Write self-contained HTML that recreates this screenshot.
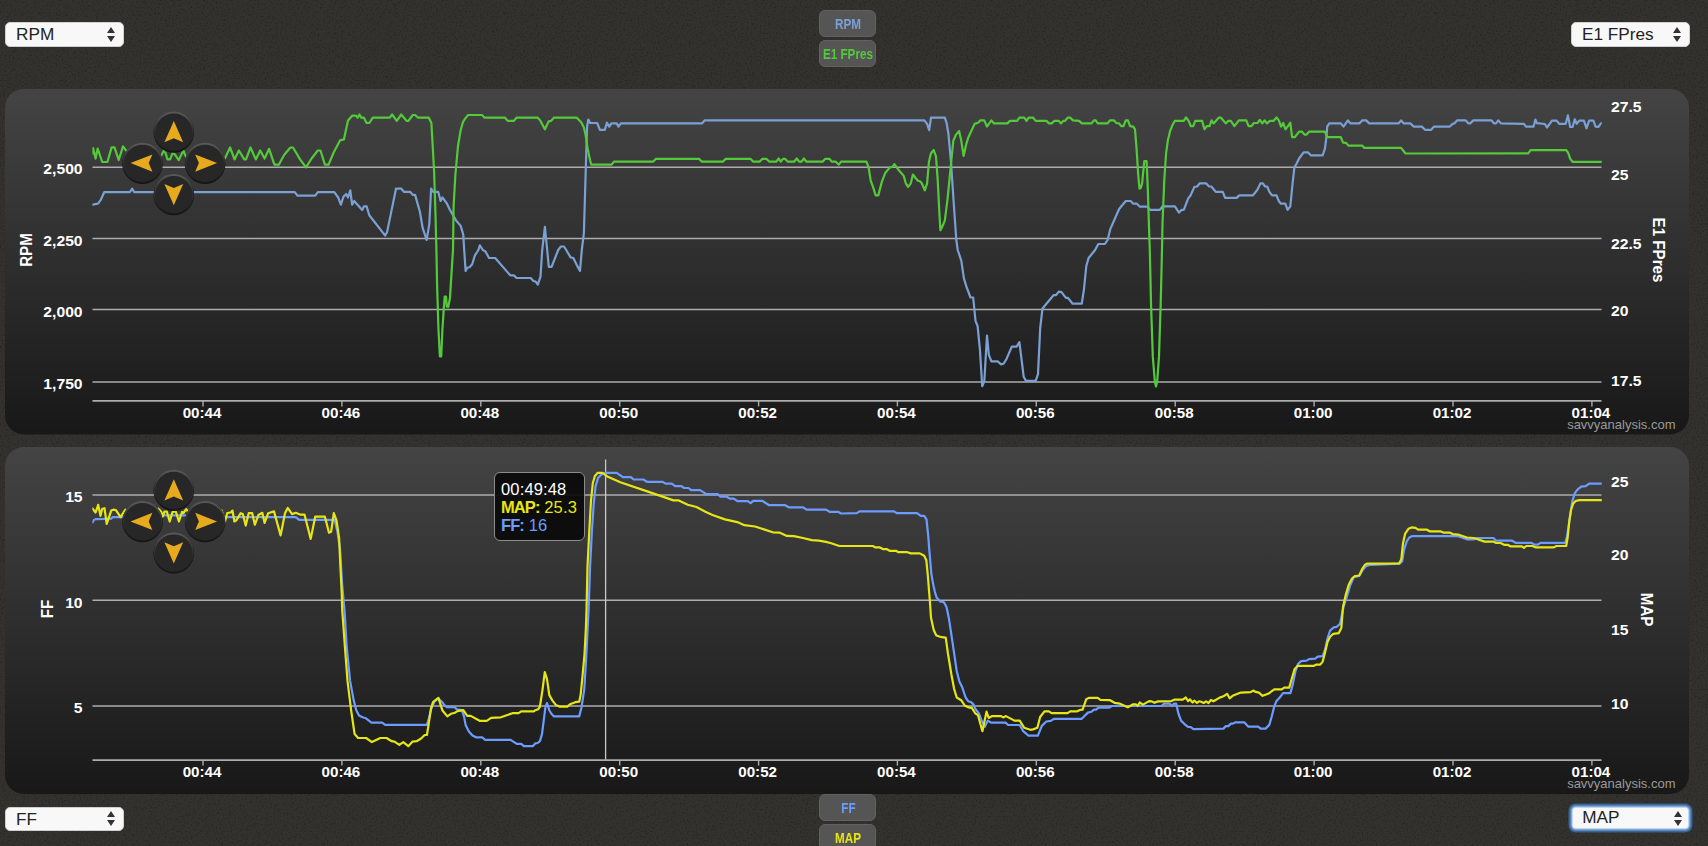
<!DOCTYPE html>
<html><head><meta charset="utf-8"><title>chart</title>
<style>
html,body{margin:0;padding:0;}
body{width:1708px;height:846px;overflow:hidden;background:#33322e;position:relative;font-family:"Liberation Sans",sans-serif;}
.tl{font:bold 15.4px "Liberation Sans",sans-serif;fill:#fff;}
.at{font:bold 15.8px "Liberation Sans",sans-serif;fill:#fff;}
.cr{font:13px "Liberation Sans",sans-serif;fill:#9a9a9a;}
.s{fill:none;stroke-width:2.2;stroke-linejoin:round;stroke-linecap:round;}
.sel{position:absolute;box-sizing:border-box;height:24.6px;width:118.5px;background:#f8f8f8;border-radius:5px;border:1px solid #d0d0d0;
  font:17.2px "Liberation Sans",sans-serif;color:#222;line-height:22.5px;padding-left:10px;}
.sel i{position:absolute;right:7.8px;width:0;height:0;border-left:4px solid transparent;border-right:4px solid transparent;}
.sel i.u{top:3.6px;border-bottom:6px solid #333;}
.sel i.d{top:12.9px;border-top:6px solid #333;}
.sel.foc{width:114.4px;height:20.4px;border:none;border-radius:3px;line-height:19.5px;padding-left:8.8px;
  box-shadow:0 0 0 0.8px #cfdff3,0 0 0 1.8px #93b4de,0 0 0 3px #5784b8,0 0 0 4.3px #3d6894,0 0 1px 4.8px rgba(45,80,120,0.5);}
.sel.foc i{right:6px}
.sel.foc i.u{top:2.6px}
.sel.foc i.d{top:12px}
.lg{position:absolute;left:819px;width:57px;height:27px;box-sizing:border-box;background:#555;border:1px solid #616161;border-radius:6px;
  display:flex;justify-content:center;font:bold 15.4px "Liberation Sans",sans-serif;line-height:26px;}
.lg span{display:block;flex:none;transform:scaleX(0.76);white-space:nowrap;position:relative;left:0.5px}
.tip{position:absolute;left:494px;top:472px;width:91px;height:69px;letter-spacing:0.15px;box-sizing:border-box;background:rgba(10,10,10,0.93);border:1px solid #8c8c8c;border-radius:6px;
  font:16.5px "Liberation Sans",sans-serif;line-height:18px;padding:6.5px 0 0 6px;color:#fff;white-space:nowrap;}
.tip b{font-weight:bold;letter-spacing:-0.9px}
</style></head><body>
<svg width="1708" height="846" viewBox="0 0 1708 846" style="position:absolute;left:0;top:0">
<defs>
<linearGradient id="pg" x1="0" y1="0" x2="0" y2="1"><stop offset="0" stop-color="#444444"/><stop offset="1" stop-color="#181818"/></linearGradient>
<linearGradient id="btnring" x1="0" y1="0" x2="0" y2="1"><stop offset="0" stop-color="#5a5a5a"/><stop offset="0.45" stop-color="#333"/><stop offset="1" stop-color="#1a1a1a"/></linearGradient>
<filter id="noise" x="0" y="0" width="100%" height="100%"><feTurbulence type="fractalNoise" baseFrequency="0.55" numOctaves="2" seed="3" result="n"/><feColorMatrix type="matrix" values="0 0 0 0 0  0 0 0 0 0  0 0 0 0 0  2.2 0 0 0 -1.1"/><feGaussianBlur stdDeviation="0.6"/></filter>
<clipPath id="plot"><rect x="92.4" y="90" width="1509.4" height="700"/></clipPath>
</defs>
<rect width="1708" height="846" fill="#000" opacity="0.3" filter="url(#noise)"/>
<rect x="5" y="89" width="1684" height="345.5" rx="19" fill="url(#pg)"/>
<rect x="5" y="447" width="1684" height="347" rx="19" fill="url(#pg)"/>
<path d="M92.5,167.3 H1601.5" stroke="#adadad" stroke-width="1.5" fill="none"/>
<text transform="translate(82.6,174.1) scale(1.02,1)" text-anchor="end" class="tl">2,500</text>
<path d="M92.5,238.4 H1601.5" stroke="#adadad" stroke-width="1.5" fill="none"/>
<text transform="translate(82.6,246.0) scale(1.02,1)" text-anchor="end" class="tl">2,250</text>
<path d="M92.5,309.5 H1601.5" stroke="#adadad" stroke-width="1.5" fill="none"/>
<text transform="translate(82.6,317.0) scale(1.02,1)" text-anchor="end" class="tl">2,000</text>
<path d="M92.5,382.0 H1601.5" stroke="#adadad" stroke-width="1.5" fill="none"/>
<text transform="translate(82.6,389.0) scale(1.02,1)" text-anchor="end" class="tl">1,750</text>
<text transform="translate(1611.0,111.9) scale(1.02,1)" text-anchor="start" class="tl">27.5</text>
<text transform="translate(1611.0,180.4) scale(1.02,1)" text-anchor="start" class="tl">25</text>
<text transform="translate(1611.0,249.0) scale(1.02,1)" text-anchor="start" class="tl">22.5</text>
<text transform="translate(1611.0,316.4) scale(1.02,1)" text-anchor="start" class="tl">20</text>
<text transform="translate(1611.0,386.1) scale(1.02,1)" text-anchor="start" class="tl">17.5</text>
<path d="M92.5,400.9 H1601.5" stroke="#adadad" stroke-width="1.6" fill="none"/>
<path d="M203.0,400.9 v5.5" stroke="#adadad" stroke-width="1.4"/>
<text transform="translate(202.0,418.2) scale(0.985,1)" text-anchor="middle" class="tl">00:44</text>
<path d="M341.9,400.9 v5.5" stroke="#adadad" stroke-width="1.4"/>
<text transform="translate(340.9,418.2) scale(0.985,1)" text-anchor="middle" class="tl">00:46</text>
<path d="M480.8,400.9 v5.5" stroke="#adadad" stroke-width="1.4"/>
<text transform="translate(479.8,418.2) scale(0.985,1)" text-anchor="middle" class="tl">00:48</text>
<path d="M619.7,400.9 v5.5" stroke="#adadad" stroke-width="1.4"/>
<text transform="translate(618.7,418.2) scale(0.985,1)" text-anchor="middle" class="tl">00:50</text>
<path d="M758.6,400.9 v5.5" stroke="#adadad" stroke-width="1.4"/>
<text transform="translate(757.6,418.2) scale(0.985,1)" text-anchor="middle" class="tl">00:52</text>
<path d="M897.4,400.9 v5.5" stroke="#adadad" stroke-width="1.4"/>
<text transform="translate(896.4,418.2) scale(0.985,1)" text-anchor="middle" class="tl">00:54</text>
<path d="M1036.3,400.9 v5.5" stroke="#adadad" stroke-width="1.4"/>
<text transform="translate(1035.3,418.2) scale(0.985,1)" text-anchor="middle" class="tl">00:56</text>
<path d="M1175.2,400.9 v5.5" stroke="#adadad" stroke-width="1.4"/>
<text transform="translate(1174.2,418.2) scale(0.985,1)" text-anchor="middle" class="tl">00:58</text>
<path d="M1314.1,400.9 v5.5" stroke="#adadad" stroke-width="1.4"/>
<text transform="translate(1313.1,418.2) scale(0.985,1)" text-anchor="middle" class="tl">01:00</text>
<path d="M1453.0,400.9 v5.5" stroke="#adadad" stroke-width="1.4"/>
<text transform="translate(1452.0,418.2) scale(0.985,1)" text-anchor="middle" class="tl">01:02</text>
<path d="M1591.9,400.9 v5.5" stroke="#adadad" stroke-width="1.4"/>
<text transform="translate(1590.9,418.2) scale(0.985,1)" text-anchor="middle" class="tl">01:04</text>
<path d="M92.7,204.6 L98.0,203.7 L100.6,200.2 L104.2,192.2 L129.9,192.2 L132.2,188.7 L134.3,192.2 L294.8,192.2 L297.4,195.7 L315.2,195.7 L317.8,192.2 L334.3,192.2 L338.2,197.5 L340.9,204.6 L343.5,196.6 L346.2,194.0 L348.0,197.5 L350.3,190.4 L352.1,204.6 L354.2,201.0 L362.2,210.0 L363.9,206.4 L366.6,206.4 L369.3,215.2 L385.2,235.6 L387.1,232.1 L396.0,188.7 L401.3,188.7 L403.9,191.8 L410.1,191.8 L412.8,194.9 L415.1,194.9 L419.9,211.7 L422.6,227.7 L426.6,240.0 L429.3,224.1 L431.1,188.7 L433.2,191.8 L438.2,191.8 L440.6,201.0 L442.4,197.5 L446.5,202.8 L450.0,210.0 L456.2,220.6 L460.7,225.9 L463.3,234.8 L464.2,250.0 L465.6,270.9 L467.2,267.7 L469.5,267.2 L472.2,264.2 L474.9,255.3 L478.4,250.0 L479.8,245.4 L482.8,250.0 L485.5,251.4 L489.0,258.0 L495.2,258.0 L510.3,275.4 L513.9,275.4 L516.5,278.0 L530.7,278.0 L533.4,281.0 L535.7,281.6 L537.8,284.6 L540.5,276.6 L542.2,250.0 L544.9,226.8 L547.2,250.0 L548.8,266.8 L551.6,266.8 L558.2,250.0 L560.9,246.5 L564.0,246.5 L566.2,250.0 L570.6,257.4 L573.3,258.0 L576.8,265.1 L580.0,270.9 L581.8,250.0 L583.9,233.0 L585.7,171.0 L587.1,126.6 L588.3,119.5 L590.1,123.0 L597.2,123.0 L599.9,129.8 L604.8,129.8 L607.0,122.7 L609.3,126.6 L611.4,123.4 L616.7,123.4 L618.5,126.6 L620.8,123.4 L701.9,123.4 L704.6,120.4 L924.4,120.4 L927.1,123.9 L929.2,130.1 L931.0,117.7 L944.8,117.7 L946.6,123.0 L948.4,133.7 L951.0,162.0 L953.7,202.8 L956.3,240.0 L957.7,250.0 L961.3,260.6 L963.9,278.4 L966.6,287.2 L970.5,297.5 L973.2,297.5 L975.5,320.9 L977.6,326.2 L979.9,349.3 L982.2,386.2 L984.3,381.2 L987.0,335.5 L988.8,354.6 L991.4,361.3 L997.6,361.3 L1001.2,364.4 L1003.8,363.5 L1006.5,359.0 L1011.8,346.6 L1016.6,346.6 L1019.4,342.2 L1021.6,359.9 L1023.7,376.8 L1026.0,380.9 L1035.7,380.9 L1038.0,374.1 L1040.2,328.0 L1042.5,308.5 L1053.5,295.2 L1056.1,295.2 L1058.8,291.7 L1061.5,292.2 L1065.9,297.9 L1068.0,297.9 L1072.6,303.7 L1081.8,303.7 L1084.0,289.0 L1086.3,266.0 L1088.6,258.0 L1095.1,250.0 L1098.3,244.0 L1104.9,244.0 L1107.6,240.0 L1110.2,229.4 L1119.1,209.0 L1125.8,201.0 L1130.6,201.0 L1133.3,203.7 L1136.8,203.7 L1140.0,206.7 L1147.4,206.7 L1150.1,209.9 L1159.9,209.9 L1162.5,206.4 L1174.9,206.4 L1179.0,212.6 L1181.5,209.9 L1183.8,209.9 L1188.2,198.4 L1190.4,195.7 L1194.4,186.9 L1197.1,186.5 L1199.8,183.3 L1206.0,183.3 L1209.1,186.5 L1211.3,186.5 L1215.7,191.8 L1222.8,191.8 L1225.1,197.9 L1236.7,197.9 L1239.2,195.4 L1253.0,195.4 L1257.5,189.5 L1260.5,183.3 L1262.8,183.3 L1265.1,186.5 L1267.2,186.5 L1269.4,191.8 L1272.0,195.4 L1276.5,195.4 L1278.8,201.0 L1280.9,203.7 L1285.3,203.7 L1287.6,209.9 L1290.3,206.4 L1292.4,185.1 L1294.4,167.4 L1296.5,163.8 L1299.1,158.5 L1303.6,152.3 L1308.0,152.3 L1310.7,155.3 L1322.6,155.3 L1324.9,148.8 L1326.6,135.5 L1327.2,126.6 L1329.3,123.4 L1340.8,123.4 L1343.5,126.6 L1347.9,120.4 L1350.6,123.4 L1359.4,123.4 L1362.1,120.4 L1366.2,120.4 L1369.2,123.4 L1398.4,123.4 L1401.1,120.4 L1403.8,123.4 L1410.5,123.4 L1413.5,126.6 L1421.8,126.6 L1425.0,129.8 L1431.2,129.8 L1433.9,126.6 L1449.9,126.6 L1452.5,123.9 L1454.3,123.4 L1457.0,120.4 L1465.8,120.4 L1468.5,123.4 L1470.2,123.4 L1473.3,120.4 L1491.5,120.4 L1494.2,123.4 L1496.0,123.4 L1498.3,120.4 L1500.9,123.4 L1524.0,123.8 L1526.0,126.7 L1533.5,126.7 L1535.4,119.6 L1537.0,123.2 L1544.9,124.0 L1547.0,127.5 L1552.0,120.6 L1556.6,120.6 L1559.2,123.8 L1565.7,123.8 L1567.9,115.4 L1570.2,127.0 L1572.6,127.0 L1574.8,119.3 L1576.7,123.8 L1579.3,120.6 L1583.9,120.6 L1586.5,128.4 L1589.1,120.6 L1593.4,120.6 L1595.6,126.7 L1598.2,127.0 L1601.2,123.2" stroke="#7aa0d4" class="s" clip-path="url(#plot)"/>
<path d="M92.5,153.5 L93.2,148.2 L95.6,158.6 L97.7,148.5 L102.2,162.0 L107.4,162.0 L111.6,147.4 L114.5,147.4 L118.7,160.0 L123.0,146.3 L125.8,150.1 L126.5,150.5 L129.0,156.0 L131.5,148.0 L134.5,159.4 L138.0,150.0 L141.0,158.0 L144.5,148.0 L148.0,159.4 L151.5,150.5 L154.5,158.0 L156.5,151.5 L158.5,159.4 L161.6,154.9 L163.6,151.0 L165.5,152.9 L167.5,159.4 L170.1,159.4 L172.7,152.9 L174.6,154.2 L178.8,160.1 L182.2,152.9 L183.7,151.0 L185.0,154.9 L188.0,159.0 L191.0,150.0 L194.0,159.4 L197.5,149.0 L201.0,159.0 L204.5,150.0 L208.0,159.4 L211.5,149.0 L215.0,159.4 L218.5,150.0 L222.0,159.4 L224.8,158.5 L230.1,147.5 L234.5,159.4 L238.9,150.5 L244.3,159.4 L246.0,159.4 L250.5,147.5 L255.8,159.4 L260.2,150.5 L264.6,158.5 L269.1,148.8 L274.4,164.7 L278.8,164.7 L284.1,155.0 L290.4,147.5 L293.0,147.5 L300.1,159.4 L306.0,167.4 L311.6,158.5 L317.8,150.5 L320.5,150.5 L324.9,164.7 L328.5,164.7 L333.8,152.3 L340.0,140.4 L343.9,139.4 L348.0,120.4 L352.4,115.6 L356.0,115.6 L357.7,117.7 L359.5,114.5 L361.3,117.7 L363.9,117.7 L366.6,123.0 L369.3,123.0 L372.8,117.7 L389.8,117.7 L392.1,114.5 L396.8,120.9 L401.3,114.5 L406.6,120.9 L408.4,120.9 L412.8,115.0 L415.1,115.0 L418.1,117.7 L428.8,117.7 L431.4,123.0 L432.7,146.0 L434.1,171.0 L435.5,215.0 L436.4,250.0 L437.1,285.5 L438.5,329.8 L439.9,356.4 L441.2,356.4 L442.4,329.8 L443.8,308.5 L444.7,296.5 L446.0,296.5 L446.8,306.7 L448.3,306.7 L450.0,297.9 L451.3,276.6 L453.0,250.0 L453.6,206.4 L455.4,174.5 L458.0,146.0 L460.7,130.0 L463.0,122.0 L465.1,118.6 L468.1,115.0 L482.0,115.0 L484.6,117.7 L505.0,117.7 L507.7,120.9 L513.9,120.9 L516.5,117.7 L537.8,117.7 L540.5,120.9 L544.9,129.3 L548.8,121.3 L551.1,120.9 L553.8,117.7 L576.8,117.7 L581.2,122.2 L583.9,127.5 L585.7,135.5 L587.8,149.6 L590.1,160.3 L591.3,164.7 L611.4,164.7 L614.0,161.7 L653.0,161.7 L655.7,158.9 L699.3,158.9 L701.9,161.7 L722.8,161.7 L725.5,158.9 L750.7,158.9 L753.3,161.7 L759.5,161.7 L762.2,158.9 L766.6,158.9 L769.3,161.7 L776.4,161.7 L778.5,158.5 L780.8,161.7 L782.9,158.9 L785.2,158.9 L787.9,161.7 L794.1,161.7 L796.8,158.5 L799.1,161.7 L801.6,161.7 L803.9,158.5 L806.5,161.7 L822.5,161.7 L825.1,158.9 L829.6,158.9 L831.7,161.7 L835.8,161.7 L838.8,164.7 L841.1,161.7 L866.5,161.7 L868.6,167.4 L870.7,180.7 L873.0,186.9 L875.7,195.4 L878.3,195.4 L881.9,181.6 L885.4,172.7 L889.9,167.4 L892.5,167.0 L894.3,164.2 L898.7,170.0 L903.7,175.9 L905.8,183.3 L908.1,186.9 L910.8,183.3 L912.9,174.5 L915.6,178.0 L917.9,180.7 L920.0,181.2 L921.8,183.3 L924.8,190.4 L927.1,183.3 L928.9,162.0 L931.0,153.2 L933.7,150.0 L936.0,156.7 L937.7,179.8 L939.5,215.2 L940.4,230.3 L941.8,227.7 L944.8,220.6 L947.5,199.3 L951.0,163.8 L953.3,140.8 L956.0,134.6 L959.1,131.0 L961.3,140.8 L963.6,155.9 L966.2,144.3 L968.4,137.2 L974.6,123.9 L978.1,122.7 L980.4,120.4 L984.3,120.4 L987.0,126.6 L991.4,120.4 L994.1,123.4 L1007.4,123.4 L1010.0,120.9 L1017.1,120.9 L1019.4,117.7 L1024.2,117.7 L1026.5,120.9 L1028.7,117.7 L1033.1,117.7 L1035.7,120.9 L1046.4,120.9 L1049.0,123.4 L1051.7,123.4 L1054.4,120.9 L1058.8,120.9 L1061.1,123.4 L1063.2,120.9 L1065.0,120.9 L1067.7,117.7 L1070.3,117.7 L1073.0,120.4 L1079.2,120.9 L1081.8,123.4 L1091.6,123.4 L1093.9,120.4 L1095.7,120.4 L1097.8,123.4 L1107.6,123.4 L1109.9,120.4 L1113.8,120.4 L1116.4,123.0 L1119.1,123.4 L1121.2,126.2 L1123.5,126.2 L1125.8,120.4 L1127.9,120.4 L1130.1,126.2 L1133.3,126.6 L1135.0,129.3 L1136.5,147.9 L1138.2,174.5 L1139.5,188.7 L1140.9,187.8 L1142.1,183.3 L1144.3,161.2 L1146.6,161.2 L1147.8,188.7 L1149.2,233.0 L1149.8,250.0 L1151.0,303.2 L1152.8,356.4 L1154.9,382.1 L1156.0,386.5 L1157.2,381.2 L1159.0,356.4 L1160.7,303.2 L1162.0,250.0 L1162.5,224.1 L1164.3,179.8 L1166.1,153.2 L1167.8,140.8 L1170.1,131.0 L1172.6,124.8 L1174.9,120.9 L1183.8,120.9 L1186.1,117.4 L1188.6,120.9 L1190.9,126.2 L1193.2,126.2 L1195.3,120.9 L1202.1,120.9 L1204.5,129.3 L1206.8,126.2 L1209.5,126.2 L1211.6,120.4 L1213.6,123.4 L1218.7,117.7 L1221.0,117.7 L1225.8,123.4 L1228.1,120.9 L1230.8,120.9 L1234.4,126.2 L1238.9,120.4 L1246.3,120.4 L1248.6,126.2 L1251.3,126.2 L1253.9,123.0 L1257.5,123.0 L1259.8,119.9 L1262.3,123.4 L1264.6,120.4 L1266.9,123.4 L1269.9,120.9 L1273.4,120.9 L1276.5,117.4 L1278.8,120.4 L1281.1,126.6 L1283.2,123.0 L1285.5,129.3 L1287.6,126.6 L1290.3,122.7 L1292.1,137.2 L1294.7,137.2 L1299.1,131.6 L1301.8,131.6 L1304.5,134.6 L1306.6,134.6 L1309.3,131.6 L1324.9,131.6 L1327.2,137.2 L1340.8,137.2 L1343.1,142.6 L1346.1,142.9 L1348.4,145.6 L1362.1,145.6 L1364.4,147.9 L1401.1,147.9 L1405.5,153.5 L1528.3,153.3 L1530.6,150.1 L1566.3,150.1 L1568.3,153.1 L1570.2,158.9 L1572.6,161.8 L1601.2,161.8" stroke="#54ca3a" class="s" clip-path="url(#plot)"/>
<text transform="translate(31.7,250) rotate(-90) scale(0.96,1)" text-anchor="middle" class="at">RPM</text>
<text transform="translate(1652.6,250) rotate(90) scale(0.96,1)" text-anchor="middle" class="at">E1 FPres</text>
<text x="1675.5" y="428.5" text-anchor="end" class="cr">savvyanalysis.com</text>
<g transform="translate(173.8,131.8)"><circle r="20.3" cy="0.6" fill="#151515"/><circle r="20" cy="-0.3" fill="url(#btnring)"/><circle r="18.6" cy="0.3" fill="#272727"/><polygon points="0,-10.9 -9.4,10.4 0,6.5 9.4,10.4" transform="rotate(0)" fill="#e6aa1c"/></g>
<g transform="translate(142.5,163.1)"><circle r="20.3" cy="0.6" fill="#151515"/><circle r="20" cy="-0.3" fill="url(#btnring)"/><circle r="18.6" cy="0.3" fill="#272727"/><polygon points="0,-12 -8.7,9.9 0,6.2 8.7,9.9" transform="rotate(-90)" fill="#e6aa1c"/></g>
<g transform="translate(205.1,163.1)"><circle r="20.3" cy="0.6" fill="#151515"/><circle r="20" cy="-0.3" fill="url(#btnring)"/><circle r="18.6" cy="0.3" fill="#272727"/><polygon points="0,-12 -8.7,9.9 0,6.2 8.7,9.9" transform="rotate(90)" fill="#e6aa1c"/></g>
<g transform="translate(173.8,194.4)"><circle r="20.3" cy="0.6" fill="#151515"/><circle r="20" cy="-0.3" fill="url(#btnring)"/><circle r="18.6" cy="0.3" fill="#272727"/><polygon points="0,-10.9 -9.4,10.4 0,6.5 9.4,10.4" transform="rotate(180)" fill="#e6aa1c"/></g>
<path d="M92.5,495.1 H1601.5" stroke="#adadad" stroke-width="1.5" fill="none"/>
<text transform="translate(82.6,501.8) scale(1.02,1)" text-anchor="end" class="tl">15</text>
<path d="M92.5,600.2 H1601.5" stroke="#adadad" stroke-width="1.5" fill="none"/>
<text transform="translate(82.6,607.8) scale(1.02,1)" text-anchor="end" class="tl">10</text>
<path d="M92.5,706.0 H1601.5" stroke="#adadad" stroke-width="1.5" fill="none"/>
<text transform="translate(82.6,712.7) scale(1.02,1)" text-anchor="end" class="tl">5</text>
<text transform="translate(1611.0,486.9) scale(1.02,1)" text-anchor="start" class="tl">25</text>
<text transform="translate(1611.0,560.3) scale(1.02,1)" text-anchor="start" class="tl">20</text>
<text transform="translate(1611.0,635.0) scale(1.02,1)" text-anchor="start" class="tl">15</text>
<text transform="translate(1611.0,709.0) scale(1.02,1)" text-anchor="start" class="tl">10</text>
<path d="M92.5,760.1 H1601.5" stroke="#adadad" stroke-width="1.6" fill="none"/>
<path d="M203.0,760.1 v5.5" stroke="#adadad" stroke-width="1.4"/>
<text transform="translate(202.0,777.4) scale(0.985,1)" text-anchor="middle" class="tl">00:44</text>
<path d="M341.9,760.1 v5.5" stroke="#adadad" stroke-width="1.4"/>
<text transform="translate(340.9,777.4) scale(0.985,1)" text-anchor="middle" class="tl">00:46</text>
<path d="M480.8,760.1 v5.5" stroke="#adadad" stroke-width="1.4"/>
<text transform="translate(479.8,777.4) scale(0.985,1)" text-anchor="middle" class="tl">00:48</text>
<path d="M619.7,760.1 v5.5" stroke="#adadad" stroke-width="1.4"/>
<text transform="translate(618.7,777.4) scale(0.985,1)" text-anchor="middle" class="tl">00:50</text>
<path d="M758.6,760.1 v5.5" stroke="#adadad" stroke-width="1.4"/>
<text transform="translate(757.6,777.4) scale(0.985,1)" text-anchor="middle" class="tl">00:52</text>
<path d="M897.4,760.1 v5.5" stroke="#adadad" stroke-width="1.4"/>
<text transform="translate(896.4,777.4) scale(0.985,1)" text-anchor="middle" class="tl">00:54</text>
<path d="M1036.3,760.1 v5.5" stroke="#adadad" stroke-width="1.4"/>
<text transform="translate(1035.3,777.4) scale(0.985,1)" text-anchor="middle" class="tl">00:56</text>
<path d="M1175.2,760.1 v5.5" stroke="#adadad" stroke-width="1.4"/>
<text transform="translate(1174.2,777.4) scale(0.985,1)" text-anchor="middle" class="tl">00:58</text>
<path d="M1314.1,760.1 v5.5" stroke="#adadad" stroke-width="1.4"/>
<text transform="translate(1313.1,777.4) scale(0.985,1)" text-anchor="middle" class="tl">01:00</text>
<path d="M1453.0,760.1 v5.5" stroke="#adadad" stroke-width="1.4"/>
<text transform="translate(1452.0,777.4) scale(0.985,1)" text-anchor="middle" class="tl">01:02</text>
<path d="M1591.9,760.1 v5.5" stroke="#adadad" stroke-width="1.4"/>
<text transform="translate(1590.9,777.4) scale(0.985,1)" text-anchor="middle" class="tl">01:04</text>
<path d="M605.6,459.5 V759.5" stroke="#c8c8c8" stroke-width="1.3"/>
<path d="M92.7,522.4 L93.7,520.1 L95.6,519.1 L104.5,518.9 L111.2,518.6 L112.6,517.2 L122.0,517.2 L150.0,516.0 L160.9,515.3 L186.0,515.3 L200.0,516.5 L224.0,517.2 L295.7,517.1 L299.2,519.9 L334.7,519.9 L337.3,530.9 L340.0,548.7 L342.1,584.1 L344.5,610.0 L346.6,645.5 L350.1,680.9 L353.7,700.4 L356.3,710.2 L359.0,715.5 L362.6,717.3 L365.7,718.2 L371.4,722.6 L382.1,722.6 L385.2,724.9 L426.9,724.9 L428.5,719.9 L431.5,708.0 L434.5,701.5 L438.4,698.5 L442.3,702.2 L444.1,704.9 L446.8,707.2 L454.4,707.2 L456.9,709.3 L461.8,710.2 L464.0,716.4 L465.7,725.2 L468.9,731.5 L472.5,735.5 L476.0,737.3 L482.2,737.3 L484.9,739.8 L510.6,739.8 L513.3,741.6 L516.8,743.9 L521.2,743.9 L523.9,746.2 L532.8,746.2 L535.4,743.3 L537.7,743.0 L539.9,741.2 L542.0,734.1 L543.8,719.9 L545.5,706.6 L547.0,703.1 L549.3,710.2 L551.4,713.7 L554.0,716.4 L579.2,716.4 L581.5,707.5 L584.2,689.8 L585.9,663.2 L587.7,627.7 L588.6,610.0 L590.1,566.4 L591.9,530.9 L593.7,504.3 L595.5,486.6 L598.1,477.7 L601.7,474.2 L606.1,472.9 L616.7,472.9 L622.9,477.2 L630.9,477.2 L633.6,479.5 L643.3,479.5 L646.9,481.8 L662.8,481.8 L665.5,483.6 L671.7,483.6 L675.2,486.2 L681.5,486.2 L684.1,488.0 L688.5,488.0 L691.2,490.1 L700.1,490.1 L706.3,494.2 L717.8,494.2 L720.5,496.7 L726.7,496.7 L730.2,498.7 L733.8,498.7 L737.3,501.1 L747.9,501.1 L750.6,503.1 L753.3,500.8 L762.1,500.8 L769.2,505.2 L785.2,505.2 L788.7,507.3 L802.9,507.3 L806.5,509.6 L826.0,509.6 L829.5,511.8 L838.4,511.8 L841.0,513.5 L856.8,513.2 L859.5,511.4 L894.1,511.4 L896.7,513.2 L917.1,513.2 L920.7,515.9 L924.2,515.9 L926.5,519.4 L928.1,534.5 L929.5,552.2 L931.3,573.5 L933.1,584.1 L934.9,592.1 L936.6,597.4 L940.2,601.5 L942.8,601.8 L944.3,602.7 L946.5,607.1 L948.8,617.7 L952.3,640.8 L956.7,670.9 L959.4,681.6 L962.1,686.9 L965.6,697.5 L968.3,701.4 L970.9,702.0 L973.6,704.6 L975.4,709.0 L978.9,713.5 L981.6,720.6 L984.8,726.8 L987.8,720.6 L991.3,722.7 L1005.5,722.7 L1008.2,725.0 L1019.7,725.0 L1023.2,731.2 L1028.5,735.6 L1037.9,735.6 L1041.8,725.9 L1046.3,721.5 L1050.7,720.9 L1054.3,718.8 L1081.7,718.8 L1087.9,712.6 L1091.5,711.7 L1094.1,709.6 L1096.0,709.6 L1098.6,707.6 L1109.2,707.6 L1111.9,706.0 L1161.5,706.0 L1164.2,703.7 L1169.5,703.7 L1172.2,706.0 L1173.9,703.7 L1176.2,703.7 L1178.4,713.5 L1181.0,720.6 L1185.5,725.0 L1188.1,726.8 L1190.8,727.1 L1193.4,729.1 L1223.4,728.6 L1225.9,726.1 L1228.4,726.1 L1230.9,723.6 L1233.0,723.6 L1235.1,722.4 L1244.5,722.4 L1248.2,726.6 L1258.2,726.6 L1260.6,728.6 L1265.6,728.6 L1269.3,724.9 L1271.8,716.2 L1274.3,706.3 L1276.3,701.3 L1279.3,698.1 L1283.0,693.1 L1290.4,693.1 L1292.9,683.9 L1295.4,671.5 L1297.9,664.1 L1301.1,661.1 L1306.6,660.6 L1309.0,659.1 L1315.2,658.6 L1317.7,656.6 L1322.7,656.1 L1325.2,649.2 L1327.6,638.0 L1330.1,630.6 L1333.8,627.3 L1336.8,626.8 L1340.0,623.9 L1343.5,607.0 L1346.7,597.1 L1350.0,585.9 L1353.7,577.2 L1359.2,576.0 L1362.9,569.8 L1366.1,566.1 L1370.6,564.8 L1399.6,563.6 L1402.2,561.1 L1403.9,550.4 L1406.6,541.6 L1409.3,537.5 L1411.9,536.2 L1458.0,536.2 L1466.9,539.3 L1474.0,539.3 L1476.6,538.0 L1493.5,538.0 L1496.1,540.7 L1512.1,540.7 L1515.6,542.8 L1531.6,542.8 L1534.3,544.6 L1537.8,544.6 L1540.5,542.8 L1565.3,542.8 L1567.1,536.2 L1569.7,518.5 L1572.4,500.8 L1575.0,492.8 L1577.7,489.3 L1581.2,486.6 L1585.7,486.2 L1589.2,483.6 L1601.3,483.6" stroke="#6c9cff" class="s" clip-path="url(#plot)"/>
<path d="M92.5,508.5 L95.6,512.5 L98.2,504.9 L100.5,515.8 L102.2,508.7 L104.5,508.2 L106.7,523.8 L111.2,510.6 L113.5,509.7 L115.9,510.1 L120.6,517.2 L125.4,509.7 L127.0,513.0 L129.5,520.5 L132.5,511.5 L136.0,513.0 L139.0,521.0 L142.0,512.0 L146.0,513.0 L149.0,520.5 L152.0,512.0 L156.0,513.0 L158.3,508.7 L161.1,511.5 L162.6,516.7 L164.5,511.5 L166.8,511.5 L169.7,521.5 L172.5,512.0 L175.8,511.5 L178.9,521.5 L182.0,512.0 L183.4,513.0 L186.2,509.2 L189.0,513.0 L192.0,521.0 L195.0,512.5 L199.0,513.0 L202.0,521.0 L205.0,512.0 L209.0,513.5 L212.0,520.5 L215.0,512.5 L219.0,513.0 L221.7,510.6 L225.0,521.5 L227.3,513.0 L230.7,512.5 L232.5,510.6 L234.4,521.5 L236.3,520.3 L240.7,513.2 L242.8,514.1 L245.7,525.6 L248.7,513.2 L252.2,513.2 L254.9,524.7 L258.4,515.0 L262.3,512.8 L264.6,522.9 L268.2,513.2 L274.0,511.4 L280.6,535.4 L285.0,513.2 L287.7,507.9 L292.1,514.1 L295.7,512.8 L300.1,514.6 L304.5,514.6 L310.7,538.9 L315.2,516.7 L324.9,516.7 L329.0,532.7 L331.1,531.8 L333.8,513.2 L336.5,520.3 L339.1,538.0 L340.4,566.4 L341.8,594.8 L342.2,610.0 L344.8,645.5 L347.5,680.9 L351.0,709.3 L354.6,734.1 L358.1,738.0 L366.1,738.0 L371.9,742.1 L380.3,738.0 L386.5,738.0 L391.8,741.2 L394.5,741.6 L399.3,744.8 L403.3,742.1 L408.3,746.2 L412.6,741.6 L416.6,741.2 L421.1,738.5 L424.6,735.0 L426.9,735.0 L428.5,725.2 L430.8,709.3 L433.0,702.2 L438.4,697.8 L442.3,710.2 L447.3,716.4 L451.2,713.7 L454.8,712.8 L457.4,711.1 L463.3,710.2 L467.2,715.9 L470.7,715.9 L479.6,720.8 L486.7,720.8 L491.1,717.8 L500.9,717.3 L512.4,713.2 L518.6,713.2 L521.2,711.4 L533.7,711.4 L535.4,710.2 L538.1,709.3 L539.9,706.6 L542.5,689.8 L544.8,672.1 L547.0,679.1 L549.3,695.1 L552.3,700.4 L555.8,704.9 L559.4,706.6 L567.3,706.6 L570.0,704.3 L575.3,702.2 L579.2,701.7 L580.6,695.1 L582.4,677.4 L584.5,654.3 L585.9,627.7 L586.5,610.0 L587.5,566.4 L589.3,530.9 L591.0,500.8 L592.8,483.0 L594.9,476.0 L597.6,472.9 L602.6,472.9 L607.9,476.8 L620.3,482.2 L648.7,491.9 L673.5,500.4 L678.8,500.4 L687.7,504.7 L696.5,507.0 L705.4,511.8 L712.5,515.0 L724.9,519.4 L737.3,522.1 L744.4,525.2 L755.0,526.5 L772.8,532.3 L779.9,532.7 L786.9,535.9 L794.0,536.2 L802.9,538.0 L811.8,540.1 L818.9,540.7 L826.0,541.9 L831.3,543.3 L839.3,546.0 L872.8,546.0 L875.5,547.4 L879.9,547.4 L883.4,549.2 L887.0,549.2 L889.6,550.8 L895.9,550.8 L898.5,552.2 L907.4,552.2 L910.9,553.4 L919.8,553.4 L924.2,555.7 L926.3,560.2 L927.8,575.2 L929.2,593.0 L929.8,600.0 L931.0,617.7 L933.7,630.1 L936.3,635.5 L941.7,637.2 L945.7,637.6 L947.9,653.2 L951.4,674.5 L954.1,688.7 L956.7,697.5 L961.2,700.2 L964.7,705.5 L968.3,707.3 L971.8,707.8 L975.4,713.5 L978.0,715.2 L982.4,731.2 L986.5,711.7 L988.7,717.9 L992.2,716.1 L1001.1,716.1 L1003.2,717.4 L1006.0,716.1 L1014.4,720.6 L1019.7,720.6 L1024.1,727.7 L1030.3,729.8 L1033.0,729.4 L1037.4,727.7 L1040.1,717.0 L1044.5,711.3 L1048.9,711.3 L1051.6,713.1 L1067.6,713.1 L1070.2,711.3 L1077.3,711.3 L1080.0,709.9 L1082.6,709.6 L1086.2,699.3 L1088.8,697.9 L1097.7,697.9 L1100.4,699.8 L1110.1,700.2 L1114.5,702.8 L1119.9,703.7 L1127.8,707.3 L1133.2,704.3 L1135.8,704.3 L1137.6,706.0 L1139.7,702.5 L1142.9,704.6 L1149.1,701.1 L1151.8,701.4 L1154.4,702.8 L1158.0,701.4 L1171.3,701.1 L1174.8,699.6 L1182.8,699.6 L1185.8,697.5 L1188.1,701.1 L1189.9,699.3 L1192.6,702.5 L1194.3,700.7 L1197.0,702.8 L1199.0,701.3 L1201.1,701.8 L1203.6,703.0 L1206.1,701.3 L1208.5,703.0 L1211.0,700.0 L1213.5,701.3 L1219.7,697.6 L1223.4,696.3 L1227.1,693.8 L1229.6,698.3 L1232.6,695.8 L1240.8,692.6 L1250.7,692.1 L1253.2,690.6 L1255.7,691.9 L1258.9,692.6 L1262.6,695.8 L1268.1,693.8 L1274.3,689.4 L1281.7,689.4 L1284.2,687.6 L1289.2,687.6 L1291.7,679.0 L1294.6,669.0 L1297.9,665.8 L1314.0,665.8 L1316.5,664.6 L1320.2,664.6 L1322.7,661.6 L1325.2,651.7 L1327.6,641.7 L1330.1,636.8 L1333.3,633.8 L1338.8,633.1 L1341.3,628.1 L1343.0,607.0 L1345.8,594.6 L1348.7,584.7 L1352.0,578.5 L1354.9,576.0 L1359.2,575.5 L1362.4,568.5 L1364.9,564.8 L1367.4,563.6 L1399.1,563.4 L1401.3,559.3 L1403.0,543.3 L1405.2,533.6 L1408.4,528.8 L1411.6,527.4 L1415.5,527.9 L1418.1,529.7 L1427.0,529.7 L1429.6,531.3 L1440.3,531.3 L1443.8,532.7 L1450.0,532.7 L1452.7,534.1 L1458.0,534.5 L1466.9,537.5 L1474.0,538.0 L1484.6,541.6 L1493.5,541.6 L1496.1,543.0 L1500.6,543.0 L1504.1,544.8 L1507.7,544.8 L1510.3,546.3 L1521.8,546.3 L1524.0,547.8 L1526.3,546.0 L1532.5,546.0 L1536.0,547.4 L1553.8,547.4 L1556.4,546.0 L1566.2,546.0 L1567.6,538.0 L1569.4,520.3 L1571.1,509.6 L1573.3,503.4 L1575.9,500.8 L1579.5,500.2 L1601.3,500.2" stroke="#e6e614" class="s" clip-path="url(#plot)"/>
<text transform="translate(53,609) rotate(-90) scale(0.96,1)" text-anchor="middle" class="at">FF</text>
<text transform="translate(1641.4,609.6) rotate(90) scale(0.96,1)" text-anchor="middle" class="at">MAP</text>
<text x="1675.5" y="788" text-anchor="end" class="cr">savvyanalysis.com</text>
<g transform="translate(173.8,490.1)"><circle r="20.3" cy="0.6" fill="#151515"/><circle r="20" cy="-0.3" fill="url(#btnring)"/><circle r="18.6" cy="0.3" fill="#272727"/><polygon points="0,-10.9 -9.4,10.4 0,6.5 9.4,10.4" transform="rotate(0)" fill="#e6aa1c"/></g>
<g transform="translate(142.5,521.4)"><circle r="20.3" cy="0.6" fill="#151515"/><circle r="20" cy="-0.3" fill="url(#btnring)"/><circle r="18.6" cy="0.3" fill="#272727"/><polygon points="0,-12 -8.7,9.9 0,6.2 8.7,9.9" transform="rotate(-90)" fill="#e6aa1c"/></g>
<g transform="translate(205.1,521.4)"><circle r="20.3" cy="0.6" fill="#151515"/><circle r="20" cy="-0.3" fill="url(#btnring)"/><circle r="18.6" cy="0.3" fill="#272727"/><polygon points="0,-12 -8.7,9.9 0,6.2 8.7,9.9" transform="rotate(90)" fill="#e6aa1c"/></g>
<g transform="translate(173.8,552.7)"><circle r="20.3" cy="0.6" fill="#151515"/><circle r="20" cy="-0.3" fill="url(#btnring)"/><circle r="18.6" cy="0.3" fill="#272727"/><polygon points="0,-10.9 -9.4,10.4 0,6.5 9.4,10.4" transform="rotate(180)" fill="#e6aa1c"/></g>
</svg>
<div class="sel" style="left:5px;top:22px">RPM<i class="u"></i><i class="d"></i></div>
<div class="sel" style="left:1571px;top:22px">E1 FPres<i class="u"></i><i class="d"></i></div>
<div class="sel" style="left:5px;top:806.5px">FF<i class="u"></i><i class="d"></i></div>
<div class="sel foc" style="left:1573.4px;top:808px;">MAP<i class="u"></i><i class="d"></i></div>
<div class="lg" style="top:10px;color:#7aa0d4"><span>RPM</span></div>
<div class="lg" style="top:40px;color:#54ca3a"><span>E1 FPres</span></div>
<div class="lg" style="top:794px;color:#6c9cff"><span>FF</span></div>
<div class="lg" style="top:824px;color:#e6e614"><span>MAP</span></div>
<div class="tip">00:49:48<br><span style="color:#e6e614"><b>MAP:</b> 25.3</span><br><span style="color:#6c9cff"><b>FF:</b> 16</span></div>
</body></html>
